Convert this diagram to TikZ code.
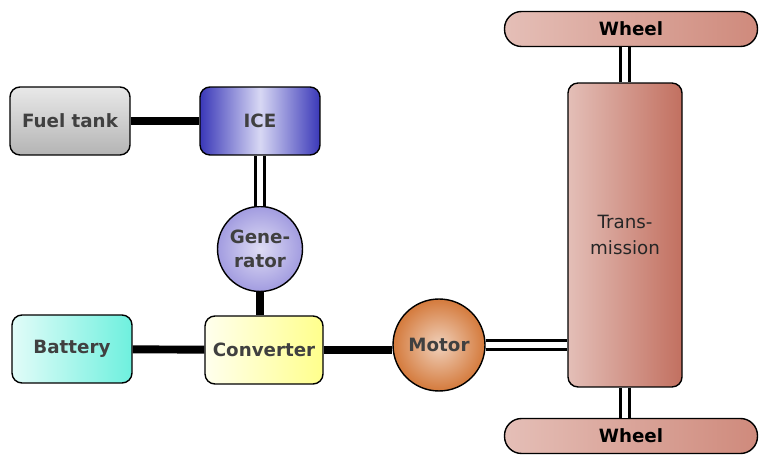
\documentclass[tikz,border=0pt]{standalone}
\usepackage{fontspec}
\setmainfont{DejaVu Sans}

\definecolor{tankgray}{HTML}{B4B4B4}
\definecolor{iceblue}{HTML}{3A38B8}
\definecolor{icelight}{HTML}{D8D8F4}
\definecolor{genlilac}{HTML}{A29CE0}
\definecolor{battcyan}{HTML}{6EF0DE}
\definecolor{convyellow}{HTML}{FFFF8C}
\definecolor{motororange}{HTML}{D47A3C}
\definecolor{transbrown}{HTML}{C27060}
\definecolor{wheelbrown}{HTML}{CF8A7C}

\begin{document}
\begin{tikzpicture}[x=0.02cm, y=-0.02cm,
    box/.style={draw, line width=0.8pt, rounded corners=0.2cm, inner sep=0pt,
      minimum width=2.4cm, minimum height=1.36cm, align=center,
      font=\bfseries\fontsize{10.4}{12.5}\selectfont, text=black!75},
    ball/.style={circle, draw, line width=0.8pt, inner sep=0pt, align=center,
      font=\bfseries\fontsize{10.4}{14}\selectfont, text=black!75},
    wheelbox/.style={draw, line width=0.8pt, rounded corners=0.34cm, inner sep=0pt,
      minimum width=5.06cm, minimum height=0.7cm, left color=wheelbrown!55,
      right color=wheelbrown, font=\bfseries\fontsize{10.4}{12.5}\selectfont},
    wire/.style={line width=4.5pt},
    shaft/.style={double, line width=2pt, double distance=3pt}]
    \useasboundingbox (0,0) rectangle (760,455);

    % energy side
    \node[box, top color=tankgray!30, bottom color=tankgray] (tank) at (70,121) {Fuel tank};
    \node[box, left color=iceblue, right color=iceblue, middle color=icelight] (ice) at (260,121) {ICE};
    \node[ball, minimum size=1.7cm, inner color=genlilac!35, outer color=genlilac] (gen) at (260,249) {Gene-\\rator};
    \node[box, left color=battcyan!20, right color=battcyan] (batt) at (72,349) {Battery};
    \node[box, left color=convyellow!15, right color=convyellow, minimum width=2.36cm] (conv) at (264,350) {Converter};
    \node[ball, minimum size=1.84cm, inner color=motororange!35, outer color=motororange] (motor) at (439,345) {Motor};

    % drive side
    \node[box, minimum width=2.28cm, minimum height=6.08cm, left color=transbrown!45,
      right color=transbrown, font=\fontsize{10.4}{15}\selectfont, text=black!85] (trans) at (625,235) {Trans-\\mission};
    \node[wheelbox] (wtop) at (631,29) {Wheel};
    \node[wheelbox] (wbot) at (631,436) {Wheel};

    % connections
    \draw[wire] (tank) -- (ice);
    \draw[shaft] (ice.south) -- (gen.north);
    \draw[wire] (gen.south) -- (gen.south |- conv.north);
    \draw[wire] (batt) -- (conv);
    \draw[wire] (conv.east) -- (conv.east -| motor.west);
    \draw[shaft] (motor.east) -- (motor.east -| trans.west);
    \draw[shaft] (trans.north) -- (trans.north |- wtop.south);
    \draw[shaft] (trans.south) -- (trans.south |- wbot.north);
\end{tikzpicture}
\end{document}
